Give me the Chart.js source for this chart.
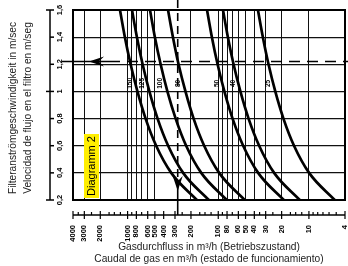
<!DOCTYPE html>
<html><head><meta charset="utf-8">
<script src="https://cdn.jsdelivr.net/npm/chart.js@4/dist/chart.umd.min.js"></script>
<style>html,body{margin:0;padding:0;background:#fff}canvas{display:block}</style>
</head><body>
<canvas id="c" width="348" height="266"></canvas>
<script>
// ---- data ----
const velocityLevels = [1.6, 1.4, 1.2, 1.0, 0.8, 0.6, 0.4, 0.2];
const curveLabels = ['150', '125', '100', '80', '50', '40', '25'];
const flowDN150 = [1213, 1071, 926, 779, 633, 484, 330, 172];
const flowDN125 = [894, 789, 683, 575, 467, 357, 244, 127];
const flowDN100 = [566, 500, 432, 364, 295, 226, 154, 80.5];
const flowDN80  = [358, 316, 274, 230, 187, 143, 97.7, 51];
const flowDN50  = [133, 117.5, 101.7, 85.6, 69.5, 53.1, 36.3, 18.9];
const flowDN40  = [88.7, 78.3, 67.8, 57.0, 46.3, 35.4, 24.2, 12.6];
const flowDN25  = [36.5, 32.2, 27.9, 23.5, 19.1, 14.6, 9.95, 5.19];
const curveFlows = [flowDN150, flowDN125, flowDN100, flowDN80, flowDN50, flowDN40, flowDN25];

const yTickValues = [0.2, 0.4, 0.6, 0.8, 1.0, 1.2, 1.4, 1.6];
const yTickLabels = ['0,2', '0,4', '0,6', '0,8', '1', '1,2', '1,4', '1,6'];
const xTickValues = [4000, 3000, 2000, 1000, 800, 600, 500, 400, 300, 200, 100, 80, 60, 50, 40, 30, 20, 10, 4];
const xTickLabels = ['4000', '3000', '2000', '1000', '800', '600', '500', '400', '300', '200', '100', '80', '60', '50', '40', '30', '20', '10', '4'];
const xMinorTicks = [3500, 2500, 1600, 1400, 1200, 900, 700, 250, 160, 140, 120, 90, 70, 35, 25, 16, 14, 12, 9, 8, 7, 6, 5];
const xGridValues = [3000, 2000, 1000, 900, 800, 700, 600, 500, 200, 100, 90, 80, 70, 60, 50, 40, 30, 20, 10];
const exampleFlow = 280;
const exampleVelocity = 1.22;

const yTitle = ['Filteranströmgeschwindigkeit in m/sec', 'Velocidad de flujo en el filtro en m/seg'];
const xTitle = ['Gasdurchfluss in m³/h (Betriebszustand)', 'Caudal de gas en m³/h (estado de funcionamiento)'];
const badgeText = 'Diagramm 2';

const FONT = '"Liberation Sans", Arial, sans-serif';

function arrowHead(ctx, tx, ty, dx, dy, len, half) {
  const px = -dy, py = dx;
  ctx.beginPath();
  ctx.moveTo(tx, ty);
  ctx.lineTo(tx - dx * len + px * half, ty - dy * len + py * half);
  ctx.lineTo(tx - dx * len * 0.65, ty - dy * len * 0.65);
  ctx.lineTo(tx - dx * len - px * half, ty - dy * len - py * half);
  ctx.closePath();
  ctx.fill();
}

function rotText(ctx, text, x, y, align) {
  ctx.save();
  ctx.translate(x, y);
  ctx.rotate(-Math.PI / 2);
  ctx.textAlign = align || 'center';
  ctx.textBaseline = 'middle';
  ctx.fillText(text, 0, 0);
  ctx.restore();
}

const deco = {
  id: 'deco',
  beforeDatasetsDraw(chart) {
    const { ctx, chartArea: a, scales: { x, y } } = chart;
    ctx.save();
    ctx.strokeStyle = '#000';
    ctx.lineWidth = 1.6;
    const yv = y.getPixelForValue(exampleVelocity);
    ctx.setLineDash([11, 7]);
    ctx.beginPath(); ctx.moveTo(a.left + 36, yv); ctx.lineTo(a.right + 3, yv); ctx.stroke();
    const xq = x.getPixelForValue(exampleFlow);
    ctx.setLineDash([8, 5]);
    ctx.beginPath(); ctx.moveTo(xq, 0); ctx.lineTo(xq, a.bottom - 18); ctx.stroke();
    ctx.restore();
  },
  afterDatasetsDraw(chart) {
    const { ctx, chartArea: a, scales: { x, y } } = chart;
    ctx.save();
    ctx.fillStyle = '#000';
    ctx.strokeStyle = '#000';
    ctx.lineWidth = 2;
    ctx.strokeRect(a.left, a.top, a.right - a.left, a.bottom - a.top);

    // curve labels
    ctx.font = 'bold 6.5px ' + FONT;
    curveFlows.forEach((f, i) => {
      const px = x.getPixelForValue(f[3]);
      const py = y.getPixelForValue(velocityLevels[3]);
      rotText(ctx, curveLabels[i], px - 7, py - 8);
    });

    // y axis
    const ax = a.left - 23;
    ctx.lineWidth = 1.5;
    ctx.beginPath(); ctx.moveTo(ax, y.getPixelForValue(1.6)); ctx.lineTo(ax, y.getPixelForValue(0.2)); ctx.stroke();
    ctx.font = 'bold 7.5px ' + FONT;
    yTickValues.forEach((v, i) => {
      const py = y.getPixelForValue(v);
      const major = (i === 0 || i === 4 || i === 7);
      ctx.beginPath(); ctx.moveTo(ax - (major ? 4 : 0), py); ctx.lineTo(ax + 4, py); ctx.stroke();
      rotText(ctx, yTickLabels[i], ax + 10, py);
    });

    // x axis
    const ay = a.bottom + 15;
    ctx.beginPath(); ctx.moveTo(x.getPixelForValue(4000), ay); ctx.lineTo(x.getPixelForValue(4), ay); ctx.stroke();
    ctx.lineWidth = 1.2;
    xTickValues.forEach((v, i) => {
      const px = x.getPixelForValue(v);
      ctx.beginPath(); ctx.moveTo(px, ay - 4); ctx.lineTo(px, ay + 4); ctx.stroke();
      rotText(ctx, xTickLabels[i], px, ay + 10, 'right');
    });
    xMinorTicks.forEach(v => {
      const px = x.getPixelForValue(v);
      ctx.beginPath(); ctx.moveTo(px, ay - 3); ctx.lineTo(px, ay); ctx.stroke();
    });

    // arrows
    const yv = y.getPixelForValue(exampleVelocity);
    ctx.lineWidth = 1.6;
    ctx.beginPath(); ctx.moveTo(ax + 12, yv); ctx.lineTo(a.left + 36, yv); ctx.stroke();
    arrowHead(ctx, a.left + 16, yv, -1, 0, 15, 5);
    const xq = x.getPixelForValue(exampleFlow);
    ctx.beginPath(); ctx.moveTo(xq, a.bottom - 18); ctx.lineTo(xq, ay); ctx.stroke();
    arrowHead(ctx, xq, a.bottom - 9, 0, 1, 15, 5);

    // badge
    ctx.fillStyle = '#ffee00';
    ctx.fillRect(a.left + 11, a.bottom - 66, 15, 64);
    ctx.fillStyle = '#000';
    ctx.font = '11px ' + FONT;
    rotText(ctx, badgeText, a.left + 18.5, a.bottom - 34);

    // axis titles
    ctx.fillStyle = '#222';
    ctx.font = '10.2px ' + FONT;
    rotText(ctx, yTitle[0], 13, 108);
    rotText(ctx, yTitle[1], 28, 108);
    ctx.textAlign = 'center';
    ctx.textBaseline = 'middle';
    const cx = (a.left + a.right) / 2;
    ctx.fillText(xTitle[0], cx, 247);
    ctx.fillText(xTitle[1], cx, 259);
    ctx.restore();
  }
};

new Chart(document.getElementById('c'), {
  type: 'line',
  data: {
    datasets: curveFlows.map((f, i) => ({
      label: curveLabels[i],
      data: velocityLevels.map((v, j) => ({ x: f[j], y: v })),
      borderColor: '#000',
      borderWidth: 2.7,
      pointRadius: 0,
      fill: false,
      cubicInterpolationMode: 'monotone'
    }))
  },
  options: {
    responsive: false,
    devicePixelRatio: 1,
    animation: false,
    layout: { padding: { left: 73, right: 3, top: 10, bottom: 66 } },
    plugins: { legend: { display: false }, tooltip: { enabled: false } },
    scales: {
      x: {
        type: 'logarithmic', reverse: true, min: 4, max: 4000,
        afterFit(s) { s.height = 0; },
        afterBuildTicks(s) { s.ticks = xGridValues.map(v => ({ value: v })); },
        ticks: { display: false },
        grid: { color: '#111', lineWidth: 1, drawTicks: false },
        border: { display: false }
      },
      y: {
        type: 'linear', min: 0.2, max: 1.6,
        afterFit(s) { s.width = 0; },
        afterBuildTicks(s) { s.ticks = yTickValues.map(v => ({ value: v })); },
        ticks: { display: false },
        grid: { color: '#111', lineWidth: 1.2, drawTicks: false },
        border: { display: false }
      }
    }
  },
  plugins: [deco]
});
</script>
</body></html>
